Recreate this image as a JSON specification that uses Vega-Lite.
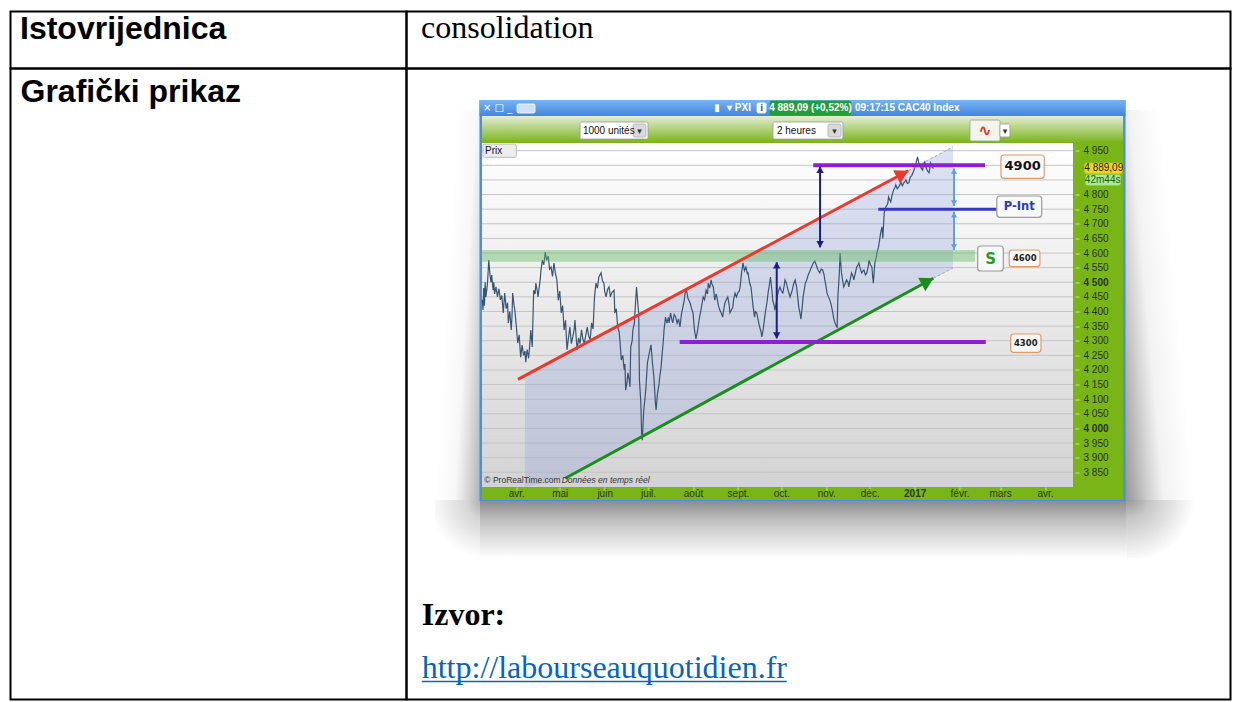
{
"$schema": "https://vega.github.io/schema/vega-lite/v6.json",
"background": "white",
"padding": {"left": 9.5, "top": 10.5, "right": 0, "bottom": 0},
"config": {"view": {"stroke": "#000000", "strokeWidth": 2}, "text": {"font": "Liberation Sans"}},
"spacing": 0,
"bounds": "flush",
"columns": 2,
"datasets": {
"shadow": [
{"part":"bottom","t":"2016-03-06T22:00Z","t2":"2017-05-27T12:00Z","p":3556.9,"p2":3755.3},
{"part":"right","t":"2017-05-26T02:00Z","t2":"2017-07-13T13:00Z","p":3755.3,"p2":5089.2},
{"part":"left","t":"2016-02-04T21:00Z","t2":"2016-03-06T22:00Z","p":3755.3,"p2":5089.2},
{"part":"bottomright","t":"2017-05-27T12:00Z","t2":"2017-07-13T13:00Z","p":3556.9,"p2":3755.3},
{"part":"bottomleft","t":"2016-02-04T21:00Z","t2":"2016-03-06T22:00Z","p":3556.9,"p2":3755.3}
],
"panels": [
{"part":"frame","t":"2016-03-06T14:00Z","t2":"2017-05-26T14:00Z","p":3751.9,"p2":5123.4},
{"part":"titlebar","t":"2016-03-06T14:00Z","t2":"2017-05-26T14:00Z","p":5068.7,"p2":5123.4},
{"part":"toolbar","t":"2016-03-08T08:00Z","t2":"2017-05-24T21:00Z","p":4976.3,"p2":5068.7},
{"part":"plot","t":"2016-03-08T08:00Z","t2":"2017-04-20T08:00Z","p":3799.7,"p2":4976.3},
{"part":"stripright","t":"2017-04-20T08:00Z","t2":"2017-05-24T21:00Z","p":3799.7,"p2":4976.3},
{"part":"stripbottom","t":"2016-03-08T08:00Z","t2":"2017-05-24T21:00Z","p":3755.3,"p2":3799.7},
{"part":"support","t":"2016-03-08T08:00Z","t2":"2017-02-11T17:00Z","p":4570,"p2":4610},
{"part":"kbd","t":"2016-04-01T12:00Z","t2":"2016-04-13T22:00Z","p":5078.9,"p2":5109.7},
{"part":"infobox","t":"2016-09-14T05:00Z","t2":"2016-09-20T10:00Z","p":5078.9,"p2":5113.2},
{"part":"pricebox","t":"2016-09-23T02:00Z","t2":"2016-11-18T00:00Z","p":5072.0,"p2":5119.9},
{"part":"sel1","t":"2016-05-15T00:00Z","t2":"2016-06-30T22:00Z","p":4990.0,"p2":5048.2},
{"part":"sel1btn","t":"2016-06-20T13:00Z","t2":"2016-06-29T12:00Z","p":4996.9,"p2":5041.3},
{"part":"sel2","t":"2016-09-25T05:00Z","t2":"2016-11-12T12:00Z","p":4990.0,"p2":5048.2},
{"part":"sel2btn","t":"2016-11-02T05:00Z","t2":"2016-11-11T05:00Z","p":4996.9,"p2":5041.3},
{"part":"icobox","t":"2017-02-08T05:00Z","t2":"2017-02-28T22:00Z","p":4983.2,"p2":5054.9},
{"part":"icobtn","t":"2017-02-28T22:00Z","t2":"2017-03-07T19:00Z","p":4996.9,"p2":5041.3},
{"part":"prix","t":"2016-03-09T00:00Z","t2":"2016-04-01T00:00Z","p":4927.4,"p2":4972.9},
{"part":"yellowbox","t":"2017-04-28T12:00Z","t2":"2017-05-24T05:00Z","p":4872.7,"p2":4906.9},
{"part":"greenbox","t":"2017-04-29T05:00Z","t2":"2017-05-22T22:00Z","p":4832.7,"p2":4866.9}
],
"grid": [
{"p":3850,"t":"2016-03-08T08:00Z","t2":"2017-04-20T08:00Z"},
{"p":3900,"t":"2016-03-08T08:00Z","t2":"2017-04-20T08:00Z"},
{"p":3950,"t":"2016-03-08T08:00Z","t2":"2017-04-20T08:00Z"},
{"p":4000,"t":"2016-03-08T08:00Z","t2":"2017-04-20T08:00Z"},
{"p":4050,"t":"2016-03-08T08:00Z","t2":"2017-04-20T08:00Z"},
{"p":4100,"t":"2016-03-08T08:00Z","t2":"2017-04-20T08:00Z"},
{"p":4150,"t":"2016-03-08T08:00Z","t2":"2017-04-20T08:00Z"},
{"p":4200,"t":"2016-03-08T08:00Z","t2":"2017-04-20T08:00Z"},
{"p":4250,"t":"2016-03-08T08:00Z","t2":"2017-04-20T08:00Z"},
{"p":4300,"t":"2016-03-08T08:00Z","t2":"2017-04-20T08:00Z"},
{"p":4350,"t":"2016-03-08T08:00Z","t2":"2017-04-20T08:00Z"},
{"p":4400,"t":"2016-03-08T08:00Z","t2":"2017-04-20T08:00Z"},
{"p":4450,"t":"2016-03-08T08:00Z","t2":"2017-04-20T08:00Z"},
{"p":4500,"t":"2016-03-08T08:00Z","t2":"2017-04-20T08:00Z"},
{"p":4550,"t":"2016-03-08T08:00Z","t2":"2017-04-20T08:00Z"},
{"p":4600,"t":"2016-03-08T08:00Z","t2":"2017-04-20T08:00Z"},
{"p":4650,"t":"2016-03-08T08:00Z","t2":"2017-04-20T08:00Z"},
{"p":4700,"t":"2016-03-08T08:00Z","t2":"2017-04-20T08:00Z"},
{"p":4750,"t":"2016-03-08T08:00Z","t2":"2017-04-20T08:00Z"},
{"p":4800,"t":"2016-03-08T08:00Z","t2":"2017-04-20T08:00Z"},
{"p":4850,"t":"2016-03-08T08:00Z","t2":"2017-04-20T08:00Z"},
{"p":4900,"t":"2016-03-08T08:00Z","t2":"2017-04-20T08:00Z"},
{"p":4950,"t":"2016-03-08T08:00Z","t2":"2017-04-20T08:00Z"}
],
"channel": [
{"t":"2016-04-07T00:00Z","p":4180.8,"p2":3799.7},
{"t":"2016-05-04T20:00Z","p":4254.6,"p2":3829.5},
{"t":"2017-01-27T12:00Z","p":4963.3,"p2":4548.8}
],
"series": [
{"t":"2016-03-08T12:00Z","p":4440},{"t":"2016-03-09","p":4405},{"t":"2016-03-09T12:00Z","p":4480},{"t":"2016-03-10","p":4420},{"t":"2016-03-10T12:00Z","p":4500},{"t":"2016-03-11","p":4450},{"t":"2016-03-12","p":4490},{"t":"2016-03-12T12:00Z","p":4530},{"t":"2016-03-13","p":4576},{"t":"2016-03-13T12:00Z","p":4545},{"t":"2016-03-14","p":4518},{"t":"2016-03-14T12:00Z","p":4500},{"t":"2016-03-15","p":4525},{"t":"2016-03-16","p":4473},{"t":"2016-03-16T12:00Z","p":4500},{"t":"2016-03-17","p":4460},{"t":"2016-03-18","p":4484},{"t":"2016-03-19","p":4450},{"t":"2016-03-20","p":4478},{"t":"2016-03-21","p":4440},{"t":"2016-03-22","p":4455},{"t":"2016-03-23","p":4395},{"t":"2016-03-24","p":4463},{"t":"2016-03-25","p":4410},{"t":"2016-03-26","p":4430},{"t":"2016-03-26T12:00Z","p":4361},{"t":"2016-03-27T12:00Z","p":4400},{"t":"2016-03-28T12:00Z","p":4337},{"t":"2016-03-29","p":4380},{"t":"2016-03-29T12:00Z","p":4463},{"t":"2016-03-30T12:00Z","p":4420},{"t":"2016-03-31","p":4405},
{"t":"2016-04-01","p":4350},{"t":"2016-04-02","p":4292},{"t":"2016-04-03","p":4320},{"t":"2016-04-04","p":4244},{"t":"2016-04-05","p":4285},{"t":"2016-04-06","p":4250},{"t":"2016-04-07","p":4265},{"t":"2016-04-07T12:00Z","p":4227},{"t":"2016-04-08T12:00Z","p":4270},{"t":"2016-04-09T12:00Z","p":4240},{"t":"2016-04-10T12:00Z","p":4300},{"t":"2016-04-11","p":4337},{"t":"2016-04-12","p":4279},{"t":"2016-04-13","p":4473},{"t":"2016-04-14","p":4460},{"t":"2016-04-14T12:00Z","p":4497},{"t":"2016-04-15T12:00Z","p":4470},{"t":"2016-04-16","p":4450},{"t":"2016-04-17","p":4490},{"t":"2016-04-17T12:00Z","p":4508},{"t":"2016-04-18","p":4540},{"t":"2016-04-19","p":4576},{"t":"2016-04-20","p":4560},{"t":"2016-04-21","p":4603},{"t":"2016-04-22","p":4575},{"t":"2016-04-23","p":4590},{"t":"2016-04-24","p":4545},{"t":"2016-04-25","p":4552},{"t":"2016-04-26","p":4520},{"t":"2016-04-27","p":4566},{"t":"2016-04-28","p":4530},{"t":"2016-04-29","p":4508},{"t":"2016-04-30","p":4439},
{"t":"2016-05-01","p":4470},{"t":"2016-05-02","p":4395},{"t":"2016-05-03","p":4420},{"t":"2016-05-04","p":4337},{"t":"2016-05-05","p":4370},{"t":"2016-05-06","p":4269},{"t":"2016-05-07","p":4310},{"t":"2016-05-08","p":4347},{"t":"2016-05-09","p":4290},{"t":"2016-05-10","p":4313},{"t":"2016-05-11","p":4340},{"t":"2016-05-11T12:00Z","p":4371},{"t":"2016-05-12T12:00Z","p":4300},{"t":"2016-05-13","p":4269},{"t":"2016-05-14","p":4310},{"t":"2016-05-15","p":4290},{"t":"2016-05-16","p":4337},{"t":"2016-05-17","p":4305},{"t":"2016-05-18","p":4292},{"t":"2016-05-19","p":4320},{"t":"2016-05-20","p":4347},{"t":"2016-05-21","p":4315},{"t":"2016-05-22","p":4303},{"t":"2016-05-23","p":4361},{"t":"2016-05-24","p":4340},{"t":"2016-05-25","p":4450},{"t":"2016-05-26","p":4497},{"t":"2016-05-27","p":4480},{"t":"2016-05-28","p":4518},{"t":"2016-05-29T12:00Z","p":4532},{"t":"2016-05-30T12:00Z","p":4505},{"t":"2016-05-31T12:00Z","p":4497},
{"t":"2016-06-01","p":4470},{"t":"2016-06-02","p":4450},{"t":"2016-06-03","p":4475},{"t":"2016-06-04","p":4484},{"t":"2016-06-05","p":4450},{"t":"2016-06-06","p":4465},{"t":"2016-06-07T12:00Z","p":4473},{"t":"2016-06-08","p":4395},{"t":"2016-06-09","p":4410},{"t":"2016-06-10","p":4347},{"t":"2016-06-11","p":4330},{"t":"2016-06-11T12:00Z","p":4303},{"t":"2016-06-12T12:00Z","p":4234},{"t":"2016-06-13T12:00Z","p":4250},{"t":"2016-06-14T12:00Z","p":4200},{"t":"2016-06-15","p":4220},{"t":"2016-06-15T12:00Z","p":4131},{"t":"2016-06-16T12:00Z","p":4160},{"t":"2016-06-17","p":4190},{"t":"2016-06-18","p":4165},{"t":"2016-06-18T12:00Z","p":4142},{"t":"2016-06-19","p":4279},{"t":"2016-06-20","p":4300},{"t":"2016-06-20T12:00Z","p":4337},{"t":"2016-06-21T12:00Z","p":4360},{"t":"2016-06-22","p":4405},{"t":"2016-06-23","p":4484},{"t":"2016-06-24","p":4420},{"t":"2016-06-24T12:00Z","p":4395},{"t":"2016-06-25","p":4166},{"t":"2016-06-26","p":4087},{"t":"2016-06-26T12:00Z","p":3984},{"t":"2016-06-27","p":3960},{"t":"2016-06-28","p":4063},{"t":"2016-06-29","p":4110},{"t":"2016-06-29T12:00Z","p":4142},{"t":"2016-06-30T12:00Z","p":4224},
{"t":"2016-07-01T12:00Z","p":4250},{"t":"2016-07-03","p":4286},{"t":"2016-07-04","p":4224},{"t":"2016-07-05","p":4176},{"t":"2016-07-06","p":4090},{"t":"2016-07-06T12:00Z","p":4063},{"t":"2016-07-07T12:00Z","p":4121},{"t":"2016-07-08T12:00Z","p":4150},{"t":"2016-07-09","p":4176},{"t":"2016-07-10","p":4210},{"t":"2016-07-10T12:00Z","p":4244},{"t":"2016-07-11T12:00Z","p":4300},{"t":"2016-07-12","p":4337},{"t":"2016-07-13","p":4381},{"t":"2016-07-14","p":4360},{"t":"2016-07-15","p":4380},{"t":"2016-07-15T12:00Z","p":4361},{"t":"2016-07-16T12:00Z","p":4395},{"t":"2016-07-17T12:00Z","p":4370},{"t":"2016-07-18","p":4361},{"t":"2016-07-19","p":4390},{"t":"2016-07-20","p":4381},{"t":"2016-07-21","p":4360},{"t":"2016-07-22","p":4375},{"t":"2016-07-23","p":4347},{"t":"2016-07-24","p":4390},{"t":"2016-07-25","p":4415},{"t":"2016-07-26","p":4440},{"t":"2016-07-26T12:00Z","p":4463},{"t":"2016-07-27T12:00Z","p":4473},{"t":"2016-07-28T12:00Z","p":4445},{"t":"2016-07-30","p":4429},{"t":"2016-07-31","p":4410},
{"t":"2016-08-01","p":4395},{"t":"2016-08-02","p":4337},{"t":"2016-08-03","p":4306},{"t":"2016-08-04","p":4330},{"t":"2016-08-04T12:00Z","p":4347},{"t":"2016-08-05T12:00Z","p":4380},{"t":"2016-08-06T12:00Z","p":4405},{"t":"2016-08-07","p":4420},{"t":"2016-08-08","p":4450},{"t":"2016-08-09","p":4440},{"t":"2016-08-10","p":4473},{"t":"2016-08-11","p":4460},{"t":"2016-08-11T12:00Z","p":4497},{"t":"2016-08-12T12:00Z","p":4480},{"t":"2016-08-13T12:00Z","p":4508},{"t":"2016-08-14","p":4495},{"t":"2016-08-15","p":4484},{"t":"2016-08-16","p":4439},{"t":"2016-08-17","p":4460},{"t":"2016-08-17T12:00Z","p":4450},{"t":"2016-08-18T12:00Z","p":4420},{"t":"2016-08-19T12:00Z","p":4405},{"t":"2016-08-20T12:00Z","p":4395},{"t":"2016-08-21T12:00Z","p":4381},{"t":"2016-08-22","p":4400},{"t":"2016-08-23","p":4429},{"t":"2016-08-24","p":4440},{"t":"2016-08-25","p":4450},{"t":"2016-08-26","p":4420},{"t":"2016-08-26T12:00Z","p":4395},{"t":"2016-08-27T12:00Z","p":4405},{"t":"2016-08-28T12:00Z","p":4415},{"t":"2016-08-29","p":4440},{"t":"2016-08-30","p":4463},{"t":"2016-08-31","p":4450},
{"t":"2016-09-01","p":4465},{"t":"2016-09-02","p":4470},{"t":"2016-09-02T12:00Z","p":4484},{"t":"2016-09-03T12:00Z","p":4532},{"t":"2016-09-04T12:00Z","p":4566},{"t":"2016-09-05T12:00Z","p":4540},{"t":"2016-09-06T12:00Z","p":4552},{"t":"2016-09-07T12:00Z","p":4530},{"t":"2016-09-08","p":4532},{"t":"2016-09-09","p":4500},{"t":"2016-09-10","p":4484},{"t":"2016-09-11","p":4440},{"t":"2016-09-11T12:00Z","p":4415},{"t":"2016-09-12T12:00Z","p":4381},{"t":"2016-09-13","p":4400},{"t":"2016-09-14","p":4395},{"t":"2016-09-15","p":4370},{"t":"2016-09-16","p":4347},{"t":"2016-09-17","p":4330},{"t":"2016-09-17T12:00Z","p":4313},{"t":"2016-09-18T12:00Z","p":4340},{"t":"2016-09-19","p":4361},{"t":"2016-09-20","p":4400},{"t":"2016-09-21","p":4429},{"t":"2016-09-22","p":4470},{"t":"2016-09-22T12:00Z","p":4484},{"t":"2016-09-23T12:00Z","p":4518},{"t":"2016-09-24T12:00Z","p":4470},{"t":"2016-09-25","p":4439},{"t":"2016-09-26","p":4420},{"t":"2016-09-26T12:00Z","p":4405},{"t":"2016-09-27T12:00Z","p":4430},{"t":"2016-09-28","p":4450},{"t":"2016-09-29","p":4470},{"t":"2016-09-30","p":4484},
{"t":"2016-10-01","p":4470},{"t":"2016-10-02","p":4463},{"t":"2016-10-03","p":4490},{"t":"2016-10-03T12:00Z","p":4508},{"t":"2016-10-04T12:00Z","p":4497},{"t":"2016-10-05T12:00Z","p":4475},{"t":"2016-10-07","p":4450},{"t":"2016-10-08","p":4465},{"t":"2016-10-08T12:00Z","p":4473},{"t":"2016-10-09T12:00Z","p":4495},{"t":"2016-10-10T12:00Z","p":4508},{"t":"2016-10-11T12:00Z","p":4484},{"t":"2016-10-12T12:00Z","p":4440},{"t":"2016-10-13","p":4415},{"t":"2016-10-14","p":4390},{"t":"2016-10-14T12:00Z","p":4374},{"t":"2016-10-15T12:00Z","p":4420},{"t":"2016-10-16","p":4450},{"t":"2016-10-17","p":4480},{"t":"2016-10-17T12:00Z","p":4497},{"t":"2016-10-18T12:00Z","p":4508},{"t":"2016-10-19T12:00Z","p":4525},{"t":"2016-10-21","p":4542},{"t":"2016-10-22","p":4555},{"t":"2016-10-23","p":4566},{"t":"2016-10-24","p":4573},{"t":"2016-10-25","p":4560},{"t":"2016-10-25T12:00Z","p":4552},{"t":"2016-10-26T12:00Z","p":4540},{"t":"2016-10-27T12:00Z","p":4532},{"t":"2016-10-28T12:00Z","p":4545},{"t":"2016-10-29T12:00Z","p":4542},{"t":"2016-10-30T12:00Z","p":4525},{"t":"2016-10-31","p":4508},
{"t":"2016-11-01","p":4480},{"t":"2016-11-01T12:00Z","p":4463},{"t":"2016-11-02T12:00Z","p":4450},{"t":"2016-11-03T12:00Z","p":4439},{"t":"2016-11-04T12:00Z","p":4420},{"t":"2016-11-05T12:00Z","p":4395},{"t":"2016-11-06","p":4380},{"t":"2016-11-07","p":4361},{"t":"2016-11-08","p":4350},{"t":"2016-11-08T12:00Z","p":4344},{"t":"2016-11-09","p":4450},{"t":"2016-11-10","p":4530},{"t":"2016-11-10T12:00Z","p":4600},{"t":"2016-11-11T12:00Z","p":4532},{"t":"2016-11-12T12:00Z","p":4500},{"t":"2016-11-13","p":4484},{"t":"2016-11-14","p":4495},{"t":"2016-11-15","p":4508},{"t":"2016-11-16","p":4500},{"t":"2016-11-16T12:00Z","p":4484},{"t":"2016-11-17T12:00Z","p":4510},{"t":"2016-11-18T12:00Z","p":4532},{"t":"2016-11-19T12:00Z","p":4520},{"t":"2016-11-20","p":4508},{"t":"2016-11-21","p":4530},{"t":"2016-11-22","p":4552},{"t":"2016-11-23","p":4560},{"t":"2016-11-23T12:00Z","p":4566},{"t":"2016-11-24T12:00Z","p":4545},{"t":"2016-11-25T12:00Z","p":4532},{"t":"2016-11-26T12:00Z","p":4540},{"t":"2016-11-27","p":4542},{"t":"2016-11-28","p":4525},{"t":"2016-11-29","p":4532},{"t":"2016-11-30","p":4555},{"t":"2016-11-30T12:00Z","p":4576},
{"t":"2016-12-01T12:00Z","p":4560},{"t":"2016-12-02T12:00Z","p":4552},{"t":"2016-12-03","p":4520},{"t":"2016-12-03T12:00Z","p":4497},{"t":"2016-12-04T12:00Z","p":4566},{"t":"2016-12-05T12:00Z","p":4585},{"t":"2016-12-06","p":4600},{"t":"2016-12-07","p":4620},{"t":"2016-12-07T12:00Z","p":4634},{"t":"2016-12-08T12:00Z","p":4668},{"t":"2016-12-09","p":4680},{"t":"2016-12-09T12:00Z","p":4689},{"t":"2016-12-10","p":4650},{"t":"2016-12-11","p":4737},{"t":"2016-12-12","p":4757},{"t":"2016-12-13","p":4765},{"t":"2016-12-13T12:00Z","p":4771},{"t":"2016-12-14","p":4792},{"t":"2016-12-15","p":4780},{"t":"2016-12-15T12:00Z","p":4775},{"t":"2016-12-16T12:00Z","p":4800},{"t":"2016-12-17T12:00Z","p":4816},{"t":"2016-12-18T12:00Z","p":4825},{"t":"2016-12-19","p":4833},{"t":"2016-12-20","p":4820},{"t":"2016-12-21","p":4826},{"t":"2016-12-22","p":4835},{"t":"2016-12-22T12:00Z","p":4843},{"t":"2016-12-23T12:00Z","p":4830},{"t":"2016-12-24T12:00Z","p":4840},{"t":"2016-12-25T12:00Z","p":4845},{"t":"2016-12-26","p":4850},{"t":"2016-12-27","p":4838},{"t":"2016-12-28","p":4840},{"t":"2016-12-29","p":4860},{"t":"2016-12-30","p":4865},{"t":"2016-12-31","p":4877},
{"t":"2017-01-01","p":4890},{"t":"2017-01-02","p":4908},{"t":"2017-01-03","p":4929},{"t":"2017-01-04","p":4905},{"t":"2017-01-04T12:00Z","p":4901},{"t":"2017-01-05T12:00Z","p":4890},{"t":"2017-01-06T12:00Z","p":4884},{"t":"2017-01-07","p":4898},{"t":"2017-01-08","p":4911},{"t":"2017-01-09","p":4891},{"t":"2017-01-10","p":4880},{"t":"2017-01-11","p":4874},{"t":"2017-01-12","p":4908},{"t":"2017-01-13","p":4895},{"t":"2017-01-14","p":4889}
],
"lines": [
{"name":"red","t":"2016-04-02T04:00Z","p":4168.1,"t2":"2016-12-27T14:00Z","p2":4881.6},
{"name":"green","t":"2016-05-04T20:00Z","p":3829.5,"t2":"2017-01-13T21:00Z","p2":4513.6},
{"name":"reddash","t":"2016-12-27T14:00Z","p":4881.6,"t2":"2017-01-27T12:00Z","p2":4963.3},
{"name":"greendash","t":"2017-01-13T21:00Z","p":4513.6,"t2":"2017-01-27T12:00Z","p2":4548.8},
{"name":"r4900","t":"2016-10-23T00:00Z","p":4900,"t2":"2017-02-18T14:00Z","p2":4900},
{"name":"r4300","t":"2016-07-22T19:00Z","p":4296,"t2":"2017-02-19T02:00Z","p2":4296},
{"name":"pint","t":"2016-12-06T22:00Z","p":4750,"t2":"2017-02-26T17:00Z","p2":4750},
{"name":"underline","t":"2016-01-26T17:00Z","p":3134.4,"t2":"2016-10-04T17:00Z","p2":3134.4}
],
"tips": [
{"name":"red","t":"2016-12-23T14:00Z","p":4871.0},
{"name":"green","t":"2017-01-09T22:00Z","p":4503.0}
],
"arrows": [
{"kind":"navy","t":"2016-10-27T17:00Z","p":4895.3,"p2":4619.6},
{"kind":"navy","t":"2016-09-27T19:00Z","p":4568.3,"p2":4308.3},
{"kind":"light","t":"2017-01-28T04:00Z","p":4889.8,"p2":4760.9},
{"kind":"light","t":"2017-01-28T04:00Z","p":4741.4,"p2":4610.4}
],
"arrowends": [
{"kind":"navy","end":"top","t":"2016-10-27T17:00Z","p":4885},
{"kind":"navy","end":"bottom","t":"2016-10-27T17:00Z","p":4630},
{"kind":"navy","end":"top","t":"2016-09-27T19:00Z","p":4558},
{"kind":"navy","end":"bottom","t":"2016-09-27T19:00Z","p":4318},
{"kind":"light","end":"top","t":"2017-01-28T04:00Z","p":4880},
{"kind":"light","end":"bottom","t":"2017-01-28T04:00Z","p":4771},
{"kind":"light","end":"top","t":"2017-01-28T04:00Z","p":4731},
{"kind":"light","end":"bottom","t":"2017-01-28T04:00Z","p":4621}
],
"boxes": [
{"label":"4900","t":"2017-03-01T14:00Z","t2":"2017-03-31T12:00Z","p":4855.6,"p2":4935.3},
{"label":"P-Int","t":"2017-02-26T17:00Z","t2":"2017-03-29T17:00Z","p":4722.2,"p2":4795.1},
{"label":"S","t":"2017-02-13T12:00Z","t2":"2017-03-03T05:00Z","p":4538.5,"p2":4624.0},
{"label":"4600","t":"2017-03-07T07:00Z","t2":"2017-03-28T12:00Z","p":4553.2,"p2":4610.4},
{"label":"4300","t":"2017-03-08T07:00Z","t2":"2017-03-29T05:00Z","p":4260.4,"p2":4323.0}
],
"boxlabels": [
{"label":"4900","t":"2017-03-16T14:00Z","p":4896},
{"label":"P-Int","t":"2017-03-14T05:00Z","p":4758.8},
{"label":"S","t":"2017-02-22T10:00Z","p":4581.3},
{"label":"4600","t":"2017-03-18T00:00Z","p":4581.9},
{"label":"4300","t":"2017-03-18T17:00Z","p":4291.6}
],
"uitext": [
{"part":"winctl","label":"× □ _","t":"2016-03-09T00:00Z","p":5096},
{"part":"candle","label":"▮","t":"2016-08-17T12:00Z","p":5096},
{"part":"ticker","label":"▾ PXI","t":"2016-08-24T12:00Z","p":5096},
{"part":"info","label":"i","t":"2016-09-17T07:00Z","p":5096},
{"part":"price","label":"4 889,09 (+0,52%)","t":"2016-10-21T02:00Z","p":5096},
{"part":"clock","label":"09:17:15 CAC40 Index","t":"2016-11-20T19:00Z","p":5096},
{"part":"sel1","label":"1000 unités","t":"2016-05-17T00:00Z","p":5019},
{"part":"sel1arrow","label":"▾","t":"2016-06-25T01:00Z","p":5019},
{"part":"sel2","label":"2 heures","t":"2016-09-27T23:00Z","p":5019},
{"part":"sel2arrow","label":"▾","t":"2016-11-06T17:00Z","p":5019},
{"part":"icon","label":"∿","t":"2017-02-18T12:00Z","p":5019},
{"part":"icoarrow","label":"▾","t":"2017-03-04T10:00Z","p":5019},
{"part":"prix","label":"Prix","t":"2016-03-10T10:00Z","p":4950},
{"part":"yellowtxt","label":"4 889,09","t":"2017-05-11T14:00Z","p":4889.8},
{"part":"greentxt","label":"42m44s","t":"2017-05-10T19:00Z","p":4849.8},
{"part":"copyright","label":"© ProRealTime.com","t":"2016-03-09T22:00Z","p":3822},
{"part":"realtime","label":"Données en temps réel","t":"2016-05-02T08:00Z","p":3822},
{"part":"izvor","label":"Izvor:","t":"2016-01-26T17:00Z","p":3327.7},
{"part":"link","label":"http://labourseauquotidien.fr","t":"2016-01-26T17:00Z","p":3145.4}
]
},
"concat": [
 {"width": 396, "height": 57, "view": {"stroke": "#000000", "strokeWidth": 2}, "data": {"values": [{"label": "Istovrijednica"}]},
  "mark": {"type": "text", "align": "left", "baseline": "alphabetic", "dx": -188.5, "dy": -1.2, "font": "Liberation Sans", "fontSize": 32, "fontWeight": "bold", "color": "#000000"},
  "encoding": {"text": {"field": "label"}}},
 {"width": 824, "height": 57, "view": {"stroke": "#000000", "strokeWidth": 2}, "data": {"values": [{"label": "consolidation"}]},
  "mark": {"type": "text", "align": "left", "baseline": "alphabetic", "dx": -397.5, "dy": -1.7, "font": "Liberation Serif", "fontSize": 32, "color": "#000000"},
  "encoding": {"text": {"field": "label"}}},
 {"width": 396, "height": 631, "view": {"stroke": "#000000", "strokeWidth": 2}, "data": {"values": [{"label": "Grafički prikaz"}]},
  "mark": {"type": "text", "align": "left", "baseline": "alphabetic", "dx": -188, "dy": -282, "font": "Liberation Sans", "fontSize": 32, "fontWeight": "bold", "color": "#000000"},
  "encoding": {"text": {"field": "label"}}},
 {"width": 824, "height": 631, "view": {"stroke": "#000000", "strokeWidth": 2},
  "resolve": {"scale": {"color": "independent", "fill": "independent", "stroke": "independent", "shape": "independent", "size": "independent"}},
  "encoding": {
   "x": {"field": "t", "type": "temporal", "title": null,
    "scale": {"type": "utc", "nice": false, "domain": [{"year": 2016, "month": 1, "date": 16, "hours": 4, "minutes": 48, "utc": true}, {"year": 2017, "month": 8, "date": 7, "hours": 1, "minutes": 26, "utc": true}]},
    "axis": {"orient": "bottom", "offset": -212.5, "zindex": 1, "domain": false, "grid": false, "tickSize": 3, "tickColor": "#cfe3a6", "labelPadding": -2, "labelFont": "Liberation Sans", "labelFontSize": 10, "labelColor": "#2a3a1f", "labelOverlap": false, "labelFlush": false, "labelBound": false, "title": null,
     "values": [{"year":2016,"month":4,"date":1,"utc":true},{"year":2016,"month":5,"date":1,"utc":true},{"year":2016,"month":6,"date":1,"utc":true},{"year":2016,"month":7,"date":1,"utc":true},{"year":2016,"month":8,"date":1,"utc":true},{"year":2016,"month":9,"date":1,"utc":true},{"year":2016,"month":10,"date":1,"utc":true},{"year":2016,"month":11,"date":1,"utc":true},{"year":2016,"month":12,"date":1,"utc":true},{"year":2017,"month":1,"date":1,"utc":true},{"year":2017,"month":2,"date":1,"utc":true},{"year":2017,"month":3,"date":1,"utc":true},{"year":2017,"month":4,"date":1,"utc":true}],
     "labelExpr": "utcmonth(datum.value) == 0 ? '' + utcyear(datum.value) : ['janv.','févr.','mars','avr.','mai','juin','juil.','août','sept.','oct.','nov.','déc.'][utcmonth(datum.value)]",
     "labelFontWeight": {"condition": {"test": "utcmonth(datum.value) == 0", "value": "bold"}, "value": "normal"}}},
   "y": {"field": "p", "type": "quantitative", "title": null,
    "scale": {"domain": [3072.9, 5231.2], "nice": false, "zero": false},
    "axis": {"orient": "right", "offset": -155.5, "zindex": 1, "domain": false, "grid": false, "tickSize": 4, "tickColor": "#c9e0a0", "labelPadding": 4, "labelFont": "Liberation Sans", "labelFontSize": 10, "labelColor": "#263322", "labelOverlap": false, "labelFlush": false, "labelBound": false, "title": null,
     "values": [3850, 3900, 3950, 4000, 4050, 4100, 4150, 4200, 4250, 4300, 4350, 4400, 4450, 4500, 4550, 4600, 4650, 4700, 4750, 4800, 4950],
     "labelExpr": "replace(format(datum.value, ','), ',', ' ')",
     "labelFontWeight": {"condition": {"test": "datum.value == 4000 || datum.value == 4500", "value": "bold"}, "value": "normal"}}}
  },
  "layer": [
   {"data": {"name": "shadow"}, "transform": [{"filter": "datum.part == 'bottom'"}], "mark": {"type": "rect", "fill": {"gradient": "linear", "x1": 0, "y1": 0, "x2": 0, "y2": 1, "stops": [{"offset": 0, "color": "rgba(0,0,0,0.46)"}, {"offset": 0.35, "color": "rgba(0,0,0,0.25)"}, {"offset": 1, "color": "rgba(0,0,0,0)"}]}}, "encoding": {"x2": {"field": "t2"}, "y2": {"field": "p2"}}},
   {"data": {"name": "shadow"}, "transform": [{"filter": "datum.part == 'right'"}], "mark": {"type": "rect", "fill": {"gradient": "linear", "x1": 0, "y1": 1, "x2": 1, "y2": 0.5, "stops": [{"offset": 0, "color": "rgba(0,0,0,0.42)"}, {"offset": 0.3, "color": "rgba(0,0,0,0.16)"}, {"offset": 0.45, "color": "rgba(0,0,0,0.05)"}, {"offset": 0.8, "color": "rgba(0,0,0,0)"}]}}, "encoding": {"x2": {"field": "t2"}, "y2": {"field": "p2"}}},
   {"data": {"name": "shadow"}, "transform": [{"filter": "datum.part == 'left'"}], "mark": {"type": "rect", "fill": {"gradient": "linear", "x1": 1, "y1": 1, "x2": 0, "y2": 0.5, "stops": [{"offset": 0, "color": "rgba(0,0,0,0.3)"}, {"offset": 0.3, "color": "rgba(0,0,0,0.11)"}, {"offset": 0.45, "color": "rgba(0,0,0,0.03)"}, {"offset": 0.8, "color": "rgba(0,0,0,0)"}]}}, "encoding": {"x2": {"field": "t2"}, "y2": {"field": "p2"}}},
   {"data": {"name": "shadow"}, "transform": [{"filter": "datum.part == 'bottomright'"}], "mark": {"type": "rect", "fill": {"gradient": "radial", "x1": 0, "y1": 0, "r1": 0, "x2": 0, "y2": 0, "r2": 1, "stops": [{"offset": 0, "color": "rgba(0,0,0,0.44)"}, {"offset": 0.35, "color": "rgba(0,0,0,0.22)"}, {"offset": 1, "color": "rgba(0,0,0,0)"}]}}, "encoding": {"x2": {"field": "t2"}, "y2": {"field": "p2"}}},
   {"data": {"name": "shadow"}, "transform": [{"filter": "datum.part == 'bottomleft'"}], "mark": {"type": "rect", "fill": {"gradient": "radial", "x1": 1, "y1": 0, "r1": 0, "x2": 1, "y2": 0, "r2": 1, "stops": [{"offset": 0, "color": "rgba(0,0,0,0.36)"}, {"offset": 0.35, "color": "rgba(0,0,0,0.16)"}, {"offset": 1, "color": "rgba(0,0,0,0)"}]}}, "encoding": {"x2": {"field": "t2"}, "y2": {"field": "p2"}}},
   {"data": {"name": "panels"}, "transform": [{"filter": "datum.part == 'frame'"}], "mark": {"type": "rect", "fill": "#4b8fe0"}, "encoding": {"x2": {"field": "t2"}, "y2": {"field": "p2"}}},
   {"data": {"name": "panels"}, "transform": [{"filter": "datum.part == 'titlebar'"}], "mark": {"type": "rect", "fill": {"gradient": "linear", "x1": 0, "y1": 0, "x2": 0, "y2": 1, "stops": [{"offset": 0, "color": "#7ab3f3"}, {"offset": 1, "color": "#3f86dd"}]}}, "encoding": {"x2": {"field": "t2"}, "y2": {"field": "p2"}}},
   {"data": {"name": "panels"}, "transform": [{"filter": "datum.part == 'toolbar'"}], "mark": {"type": "rect", "fill": {"gradient": "linear", "x1": 0, "y1": 0, "x2": 0, "y2": 1, "stops": [{"offset": 0, "color": "#e4eed6"}, {"offset": 1, "color": "#79b31a"}]}}, "encoding": {"x2": {"field": "t2"}, "y2": {"field": "p2"}}},
   {"data": {"name": "panels"}, "transform": [{"filter": "datum.part == 'plot'"}], "mark": {"type": "rect", "fill": {"gradient": "linear", "x1": 0, "y1": 0, "x2": 0, "y2": 1, "stops": [{"offset": 0, "color": "#ffffff"}, {"offset": 1, "color": "#d3d3d3"}]}}, "encoding": {"x2": {"field": "t2"}, "y2": {"field": "p2"}}},
   {"data": {"name": "panels"}, "transform": [{"filter": "datum.part == 'stripright' || datum.part == 'stripbottom'"}], "mark": {"type": "rect", "fill": "#79b516"}, "encoding": {"x2": {"field": "t2"}, "y2": {"field": "p2"}}},
   {"data": {"name": "grid"}, "mark": {"type": "rule", "stroke": "#c4c4c4", "strokeWidth": 1}, "encoding": {"x2": {"field": "t2"}}},
   {"data": {"name": "channel"}, "mark": {"type": "area", "fill": "#8ea2de", "opacity": 0.3}, "encoding": {"y2": {"field": "p2"}}},
   {"data": {"name": "series"}, "mark": {"type": "line", "stroke": "#3a5572", "strokeWidth": 1.2}, "encoding": {}},
   {"data": {"name": "panels"}, "transform": [{"filter": "datum.part == 'support'"}], "mark": {"type": "rect", "fill": "#5cb85c", "opacity": 0.42}, "encoding": {"x2": {"field": "t2"}, "y2": {"field": "p2"}}},
   {"data": {"name": "lines"}, "transform": [{"filter": "datum.name == 'reddash' || datum.name == 'greendash'"}], "mark": {"type": "rule", "stroke": "#a8a8a8", "strokeWidth": 1, "strokeDash": [3, 2]}, "encoding": {"x2": {"field": "t2"}, "y2": {"field": "p2"}}},
   {"data": {"name": "lines"}, "transform": [{"filter": "datum.name == 'red'"}], "mark": {"type": "rule", "stroke": "#e83a2e", "strokeWidth": 3}, "encoding": {"x2": {"field": "t2"}, "y2": {"field": "p2"}}},
   {"data": {"name": "lines"}, "transform": [{"filter": "datum.name == 'green'"}], "mark": {"type": "rule", "stroke": "#1a8e1a", "strokeWidth": 3}, "encoding": {"x2": {"field": "t2"}, "y2": {"field": "p2"}}},
   {"data": {"name": "lines"}, "transform": [{"filter": "datum.name == 'r4900' || datum.name == 'r4300'"}], "mark": {"type": "rule", "stroke": "#8c1fd0", "strokeWidth": 4}, "encoding": {"x2": {"field": "t2"}, "y2": {"field": "p2"}}},
   {"data": {"name": "lines"}, "transform": [{"filter": "datum.name == 'pint'"}], "mark": {"type": "rule", "stroke": "#3535c6", "strokeWidth": 3}, "encoding": {"x2": {"field": "t2"}, "y2": {"field": "p2"}}},
   {"data": {"name": "lines"}, "transform": [{"filter": "datum.name == 'underline'"}], "mark": {"type": "rule", "stroke": "#0563c1", "strokeWidth": 1.5}, "encoding": {"x2": {"field": "t2"}, "y2": {"field": "p2"}}},
   {"data": {"name": "tips"}, "transform": [{"filter": "datum.name == 'red'"}], "mark": {"type": "point", "shape": "triangle-up", "angle": 61.9, "size": 230, "filled": true, "fill": "#e83a2e", "opacity": 1, "strokeWidth": 0}, "encoding": {}},
   {"data": {"name": "tips"}, "transform": [{"filter": "datum.name == 'green'"}], "mark": {"type": "point", "shape": "triangle-up", "angle": 61.5, "size": 230, "filled": true, "fill": "#1a8e1a", "opacity": 1, "strokeWidth": 0}, "encoding": {}},
   {"data": {"name": "arrows"}, "mark": {"type": "rule", "strokeWidth": 2}, "encoding": {"y2": {"field": "p2"}, "color": {"field": "kind", "type": "nominal", "scale": {"domain": ["navy", "light"], "range": ["#1c1c8f", "#5c9fe8"]}, "legend": null}}},
   {"data": {"name": "arrowends"}, "mark": {"type": "point", "filled": true, "opacity": 1, "strokeWidth": 0}, "encoding": {
     "shape": {"field": "end", "type": "nominal", "scale": {"domain": ["top", "bottom"], "range": ["triangle-up", "triangle-down"]}, "legend": null},
     "color": {"field": "kind", "type": "nominal", "scale": {"domain": ["navy", "light"], "range": ["#1c1c8f", "#5c9fe8"]}, "legend": null},
     "size": {"field": "kind", "type": "nominal", "scale": {"type": "ordinal", "domain": ["navy", "light"], "range": [55, 38]}, "legend": null}}},
   {"data": {"name": "boxes"}, "mark": {"type": "rect", "fill": "#f9f9f9", "cornerRadius": 3, "strokeWidth": 1.2}, "encoding": {"x2": {"field": "t2"}, "y2": {"field": "p2"},
     "stroke": {"field": "label", "type": "nominal", "scale": {"domain": ["4900", "P-Int", "S", "4600", "4300"], "range": ["#e39a6a", "#9a9a9a", "#9a9a9a", "#e39a6a", "#e39a6a"]}, "legend": null}}},
   {"data": {"name": "boxlabels"}, "mark": {"type": "text", "align": "center", "baseline": "middle", "font": "DejaVu Sans", "fontWeight": "bold"}, "encoding": {"text": {"field": "label"},
     "color": {"field": "label", "type": "nominal", "scale": {"domain": ["4900", "P-Int", "S", "4600", "4300"], "range": ["#111111", "#2d3bb5", "#2a9a2a", "#222222", "#222222"]}, "legend": null},
     "size": {"field": "label", "type": "nominal", "scale": {"type": "ordinal", "domain": ["4900", "P-Int", "S", "4600", "4300"], "range": [13, 11.5, 15, 8.5, 8.5]}, "legend": null}}},
   {"data": {"name": "panels"}, "transform": [{"filter": {"field": "part", "oneOf": ["kbd", "infobox", "pricebox", "sel1", "sel1btn", "sel2", "sel2btn", "icobox", "icobtn", "prix", "yellowbox", "greenbox"]}}], "mark": {"type": "rect", "strokeWidth": 0.8, "cornerRadius": 1.5}, "encoding": {"x2": {"field": "t2"}, "y2": {"field": "p2"},
     "fill": {"field": "part", "type": "nominal", "scale": {"domain": ["kbd", "infobox", "pricebox", "sel1", "sel1btn", "sel2", "sel2btn", "icobox", "icobtn", "prix", "yellowbox", "greenbox"], "range": ["#cde1f8", "#ffffff", "#1f9f3b", "#ffffff", "#d9d9d9", "#ffffff", "#d9d9d9", "#f2f6ea", "#ffffff", "#ededed", "#f3d21c", "#abe98e"]}, "legend": null},
     "stroke": {"field": "part", "type": "nominal", "scale": {"domain": ["kbd", "infobox", "pricebox", "sel1", "sel1btn", "sel2", "sel2btn", "icobox", "icobtn", "prix", "yellowbox", "greenbox"], "range": ["#ffffff", "#ffffff", "#1f9f3b", "#9a9a9a", "#b0b0b0", "#9a9a9a", "#b0b0b0", "#9a9a9a", "#9a9a9a", "#a9a9a9", "#f3d21c", "#abe98e"]}, "legend": null}}},
   {"data": {"name": "uitext"}, "transform": [{"filter": "datum.part == 'winctl'"}], "mark": {"type": "text", "align": "left", "baseline": "middle", "font": "DejaVu Sans", "fontSize": 10, "color": "#ffffff"}, "encoding": {"text": {"field": "label"}}},
   {"data": {"name": "uitext"}, "transform": [{"filter": "datum.part == 'candle'"}], "mark": {"type": "text", "align": "center", "baseline": "middle", "font": "DejaVu Sans", "fontSize": 10, "color": "#ffffff"}, "encoding": {"text": {"field": "label"}}},
   {"data": {"name": "uitext"}, "transform": [{"filter": "datum.part == 'ticker' || datum.part == 'clock'"}], "mark": {"type": "text", "align": "left", "baseline": "middle", "fontSize": 10, "fontWeight": "bold", "color": "#ffffff"}, "encoding": {"text": {"field": "label"}}},
   {"data": {"name": "uitext"}, "transform": [{"filter": "datum.part == 'price'"}], "mark": {"type": "text", "align": "center", "baseline": "middle", "fontSize": 10, "fontWeight": "bold", "color": "#ffffff"}, "encoding": {"text": {"field": "label"}}},
   {"data": {"name": "uitext"}, "transform": [{"filter": "datum.part == 'info'"}], "mark": {"type": "text", "align": "center", "baseline": "middle", "font": "Liberation Serif", "fontSize": 10, "fontWeight": "bold", "color": "#2d5f9e"}, "encoding": {"text": {"field": "label"}}},
   {"data": {"name": "uitext"}, "transform": [{"filter": "datum.part == 'icon'"}], "mark": {"type": "text", "align": "center", "baseline": "middle", "font": "DejaVu Sans", "fontSize": 16, "fontWeight": "bold", "color": "#d23a2a"}, "encoding": {"text": {"field": "label"}}},
   {"data": {"name": "uitext"}, "transform": [{"filter": "datum.part == 'sel1' || datum.part == 'sel2' || datum.part == 'prix'"}], "mark": {"type": "text", "align": "left", "baseline": "middle", "fontSize": 10, "color": "#111111"}, "encoding": {"text": {"field": "label"}}},
   {"data": {"name": "uitext"}, "transform": [{"filter": "datum.part == 'sel1arrow' || datum.part == 'sel2arrow' || datum.part == 'icoarrow'"}], "mark": {"type": "text", "align": "center", "baseline": "middle", "font": "DejaVu Sans", "fontSize": 9, "color": "#333333"}, "encoding": {"text": {"field": "label"}}},
   {"data": {"name": "uitext"}, "transform": [{"filter": "datum.part == 'yellowtxt'"}], "mark": {"type": "text", "align": "center", "baseline": "middle", "fontSize": 10, "color": "#1a1a1a"}, "encoding": {"text": {"field": "label"}}},
   {"data": {"name": "uitext"}, "transform": [{"filter": "datum.part == 'greentxt'"}], "mark": {"type": "text", "align": "center", "baseline": "middle", "fontSize": 10, "color": "#1b5e1b"}, "encoding": {"text": {"field": "label"}}},
   {"data": {"name": "uitext"}, "transform": [{"filter": "datum.part == 'copyright'"}], "mark": {"type": "text", "align": "left", "baseline": "middle", "fontSize": 8.5, "color": "#333333"}, "encoding": {"text": {"field": "label"}}},
   {"data": {"name": "uitext"}, "transform": [{"filter": "datum.part == 'realtime'"}], "mark": {"type": "text", "align": "left", "baseline": "middle", "fontSize": 8.5, "fontStyle": "italic", "color": "#333333"}, "encoding": {"text": {"field": "label"}}},
   {"data": {"name": "uitext"}, "transform": [{"filter": "datum.part == 'izvor'"}], "mark": {"type": "text", "align": "left", "baseline": "alphabetic", "font": "Liberation Serif", "fontSize": 32, "fontWeight": "bold", "color": "#000000"}, "encoding": {"text": {"field": "label"}}},
   {"data": {"name": "uitext"}, "transform": [{"filter": "datum.part == 'link'"}], "mark": {"type": "text", "align": "left", "baseline": "alphabetic", "font": "Liberation Serif", "fontSize": 32, "color": "#0563c1"}, "encoding": {"text": {"field": "label"}}}
  ]
 }
]
}
